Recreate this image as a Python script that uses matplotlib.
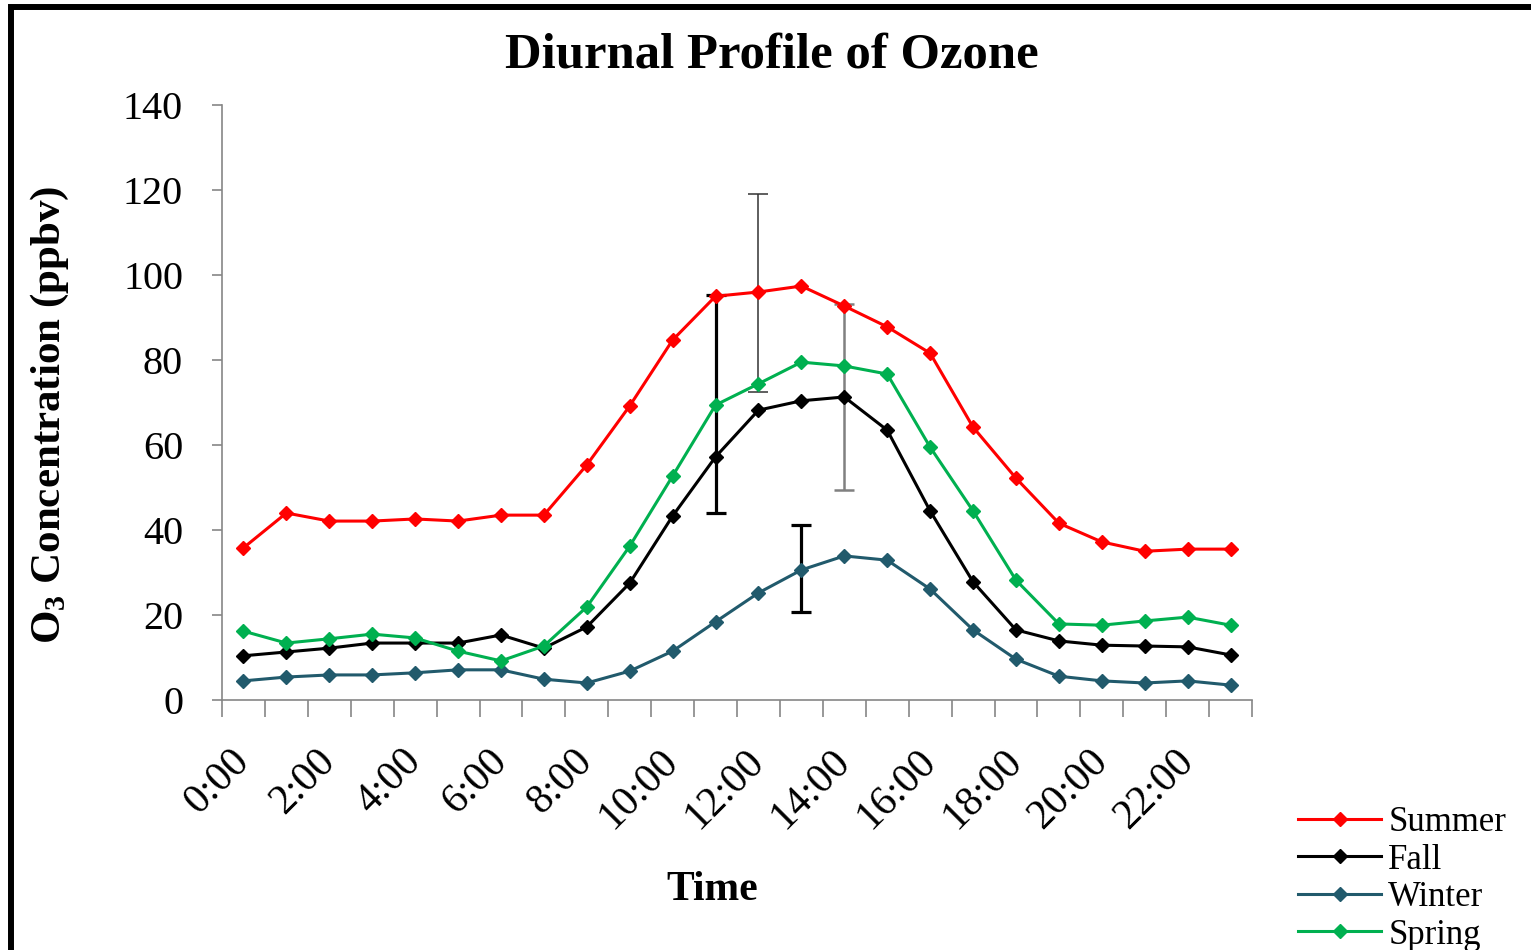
import matplotlib
matplotlib.use('Agg')
import matplotlib.pyplot as plt
import numpy as np
from matplotlib.patches import Rectangle

plt.rcParams['font.family'] = ['Liberation Serif', 'DejaVu Serif']
plt.rcParams['mathtext.default'] = 'regular'

# Hourly categories
hours = [f"{h}:00" for h in range(24)]

# Series values (ppbv)
summer = [35.8, 44.0, 42.1, 42.1, 42.6, 42.1, 43.5, 43.5, 55.3, 69.2, 84.7, 95.0,
          96.0, 97.4, 92.7, 87.8, 81.6, 64.2, 52.2, 41.6, 37.2, 35.0, 35.5, 35.5]
fall = [10.4, 11.3, 12.2, 13.4, 13.4, 13.4, 15.3, 12.2, 17.2, 27.5, 43.3, 57.2,
        68.2, 70.4, 71.3, 63.5, 44.5, 27.8, 16.5, 13.9, 12.9, 12.7, 12.5, 10.6]
winter = [4.5, 5.4, 5.9, 5.9, 6.4, 7.1, 7.1, 4.9, 4.0, 6.8, 11.5, 18.4,
          25.2, 30.6, 33.9, 32.9, 26.1, 16.5, 9.6, 5.6, 4.5, 4.0, 4.5, 3.5]
spring = [16.2, 13.4, 14.4, 15.5, 14.6, 11.5, 9.2, 12.7, 21.9, 36.2, 52.7, 69.4,
          74.4, 79.5, 78.6, 76.7, 59.5, 44.5, 28.2, 17.9, 17.6, 18.6, 19.5, 17.6]

series_names = ['Summer', 'Fall', 'Winter', 'Spring']
series_colors = ['#FF0000', '#000000', '#215A6C', '#00B050']

# Error bars (hour index, low, high)
err_hour = [11, 12, 13, 14]
err_low = [44.1, 72.5, 20.6, 49.3]
err_high = [95.3, 119.0, 41.1, 93.2]
err_colors = ['#000000', '#333333', '#000000', '#808080']
err_widths = [2.3, 1.1, 2.3, 1.8]

yticks = [0, 20, 40, 60, 80, 100, 120, 140]

fig = plt.figure(figsize=(15.31, 9.5), dpi=100)
ax = fig.add_axes([222 / 1531, 1 - 700 / 950, (1252 - 222) / 1531, (700 - 105) / 950])

x = np.arange(len(hours))

for i in range(len(err_hour)):
    mid = (err_low[i] + err_high[i]) / 2
    half = (err_high[i] - err_low[i]) / 2
    ax.errorbar([err_hour[i]], [mid], yerr=[half], fmt='none', ecolor=err_colors[i],
                elinewidth=err_widths[i], capsize=7, capthick=err_widths[i], zorder=2)

for vals, name, color in zip([summer, fall, winter, spring], series_names, series_colors):
    ax.plot(x, vals, color=color, lw=2.2, marker='D', markersize=7.5, label=name, zorder=3)

ax.set_xlim(-0.5, 23.5)
ax.set_ylim(0, 140)
ax.set_yticks(yticks)
ax.set_yticklabels([str(v) for v in yticks], fontsize=29)
ax.tick_params(axis='y', length=7, width=1.2, color='#868686', pad=21)

# boundary ticks (major) and labels every 2 hours (minor)
ax.set_xticks(np.arange(-0.5, 24, 1))
ax.set_xticklabels([])
ax.tick_params(axis='x', which='major', length=12, width=1.2, color='#868686')
ax.set_xticks(x[::2], minor=True)
ax.set_xticklabels(hours[::2], minor=True, fontsize=30, rotation=45, ha='right',
                   va='center', rotation_mode='anchor')
ax.tick_params(axis='x', which='minor', length=0, pad=40)

for s in ['top', 'right']:
    ax.spines[s].set_visible(False)
for s in ['left', 'bottom']:
    ax.spines[s].set_color('#868686')
    ax.spines[s].set_linewidth(1.2)

fig.text(772 / 1531, 1 - 56 / 950, 'Diurnal Profile of Ozone', fontsize=36.5, fontweight='bold',
         ha='center', va='center')
fig.text(50 / 1531, 1 - 415 / 950, 'O$_3$ Concentration (ppbv)', fontsize=31, fontweight='bold',
         rotation=90, ha='center', va='center')
fig.text(712 / 1531, 1 - 890 / 950, 'Time', fontsize=30, fontweight='bold',
         ha='center', va='center')

leg = fig.legend(loc='upper left', bbox_to_anchor=(1298 / 1531, 1 - 806 / 950),
                 frameon=False, fontsize=25, handlelength=2.4, handletextpad=0.2,
                 labelspacing=0.13, borderaxespad=0, borderpad=0)

# outer frame of the chart area
fig.patches.append(Rectangle((11 / 1531, -0.5), 2, 0.5 + 1 - 7 / 950, transform=fig.transFigure,
                             fill=False, lw=4.3, edgecolor='black'))

fig.savefig('out.png', dpi=100)
